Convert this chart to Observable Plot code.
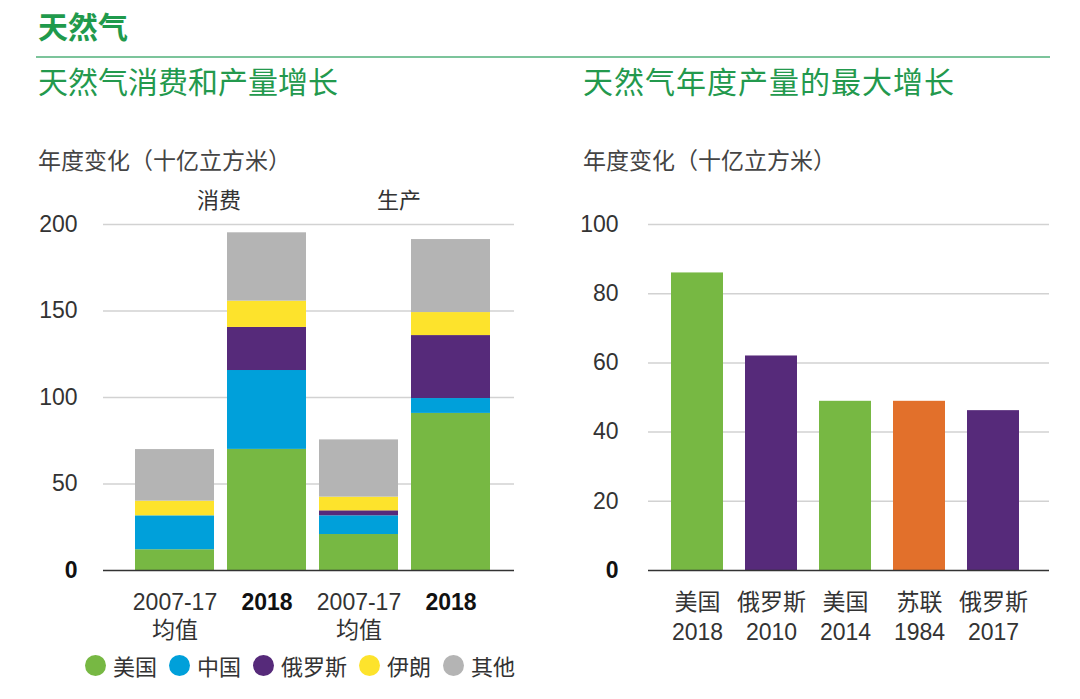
<!DOCTYPE html>
<html>
<head>
<meta charset="utf-8">
<script src="https://cdn.jsdelivr.net/npm/d3@7"></script>
<script src="https://cdn.jsdelivr.net/npm/@observablehq/plot@0.6"></script>
<style>
  html, body { margin: 0; padding: 0; background: #fff; }
  #page { position: relative; width: 1080px; height: 699px; overflow: hidden;
          font-family: "Liberation Sans", "Noto Sans CJK SC", sans-serif; color: #333; }
  .abs { position: absolute; white-space: nowrap; line-height: 1; }
  .title { left: 38px; top: 13px; font-size: 30px; font-weight: bold; color: #1f9a4c; }
  .rule { left: 36px; top: 56px; width: 1014px; height: 2px; background: #7cc49b; }
  .sub { top: 68px; font-size: 30px; color: #23994d; }
  .unit { top: 150px; font-size: 23px; color: #444; }
  .grp { top: 190px; font-size: 22px; color: #333; transform: translateX(-50%); }
  .plot { position: absolute; top: 180px; }
  #legend { position: absolute; left: 85px; top: 649px; display: flex; align-items: center;
            font-size: 22px; color: #333; }
  #legend .item { display: flex; align-items: center; margin-right: 12px; }
  #legend .dot { width: 21px; height: 21px; border-radius: 50%; margin-right: 7px; }
</style>
</head>
<body>
<div id="page">
  <div class="abs title">天然气</div>
  <div class="abs rule"></div>
  <div class="abs sub" style="left:38px">天然气消费和产量增长</div>
  <div class="abs sub" style="left:583px;letter-spacing:1px">天然气年度产量的最大增长</div>
  <div class="abs unit" style="left:38px">年度变化（十亿立方米）</div>
  <div class="abs unit" style="left:583px">年度变化（十亿立方米）</div>
  <div class="abs grp" style="left:219px">消费</div>
  <div class="abs grp" style="left:399px">生产</div>
  <div id="left" class="plot" style="left:0px"></div>
  <div id="right" class="plot" style="left:540px"></div>
  <div id="legend"></div>
</div>
<script>
// ---------- Left chart data (annual change, bcm) ----------
const leftCategories = ["消费均值", "消费2018", "生产均值", "生产2018"];
const leftTickLabels = ["2007-17\n均值", "2018", "2007-17\n均值", "2018"];
const seriesNames = ["美国", "中国", "俄罗斯", "伊朗", "其他"];
const seriesColors = ["#77b843", "#00a0da", "#562a7a", "#fde32c", "#b4b4b4"];
const usa    = [12.0, 70.0, 20.8, 90.8];
const china  = [19.6, 45.6, 10.8,  8.6];
const russia = [ 0.0, 24.9,  2.9, 36.4];
const iran   = [ 8.5, 15.2,  7.9, 13.3];
const others = [29.8, 39.5, 33.1, 42.2];
const leftTicks = [0, 50, 100, 150, 200];

// ---------- Right chart data ----------
const rightLabels = ["美国\n2018", "俄罗斯\n2010", "美国\n2014", "苏联\n1984", "俄罗斯\n2017"];
const rightCountries = ["美国", "俄罗斯", "美国", "苏联", "俄罗斯"];
const rightValues = [86.0, 62.0, 48.9, 48.9, 46.2];
const rightColorDomain = ["美国", "俄罗斯", "苏联"];
const rightColorRange = ["#77b843", "#562a7a", "#e2702b"];
const rightTicks = [0, 20, 40, 60, 80, 100];

const font = `"Liberation Sans", "Noto Sans CJK SC", sans-serif`;

// build long table for stacking
const seriesValues = [usa, china, russia, iran, others];
const leftData = [];
seriesNames.forEach((s, si) => {
  leftCategories.forEach((c, ci) => {
    leftData.push({cat: c, series: s, value: seriesValues[si][ci]});
  });
});
const labelOf = Object.fromEntries(leftCategories.map((c, i) => [c, leftTickLabels[i]]));

const leftPlot = Plot.plot({
  width: 540, height: 480,
  marginLeft: 103, marginRight: 26, marginTop: 44, marginBottom: 90,
  style: {fontFamily: font, fontSize: "23px", color: "#333", background: "transparent"},
  x: {domain: leftCategories, paddingInner: 0.14, paddingOuter: 0.3, align: 0.57, label: null},
  y: {domain: [0, 200], label: null},
  color: {domain: seriesNames, range: seriesColors},
  marks: [
    Plot.gridY(leftTicks.slice(1), {stroke: "#d2d2d2", strokeOpacity: 1, strokeWidth: 1.5}),
    Plot.barY(leftData, {x: "cat", y: "value", fill: "series"}),
    Plot.ruleY([0], {stroke: "#333", strokeWidth: 1.5}),
    Plot.axisY(leftTicks.slice(1), {tickSize: 0, tickPadding: 26, fill: "#333", label: null}),
    Plot.axisY([0], {tickSize: 0, tickPadding: 26, fill: "#111", fontWeight: "bold", label: null}),
    Plot.axisX([leftCategories[0], leftCategories[2]], {tickSize: 0, tickPadding: 20, lineHeight: 1.2,
      tickFormat: d => labelOf[d], fill: "#333", label: null}),
    Plot.axisX([leftCategories[1], leftCategories[3]], {tickSize: 0, tickPadding: 20, lineHeight: 1.2,
      tickFormat: d => labelOf[d], fill: "#111", fontWeight: "bold", label: null})
  ]
});
document.getElementById("left").appendChild(leftPlot);

const rightData = rightLabels.map((l, i) => ({label: l, country: rightCountries[i], value: rightValues[i]}));
const rightPlot = Plot.plot({
  width: 540, height: 480,
  marginLeft: 108, marginRight: 31, marginTop: 44, marginBottom: 90,
  style: {fontFamily: font, fontSize: "23px", color: "#333", background: "transparent"},
  x: {domain: rightLabels, paddingInner: 0.293, paddingOuter: 0.33, align: 0.44, label: null},
  y: {domain: [0, 100], label: null},
  color: {domain: rightColorDomain, range: rightColorRange},
  marks: [
    Plot.gridY(rightTicks.slice(1), {stroke: "#d2d2d2", strokeOpacity: 1, strokeWidth: 1.5}),
    Plot.barY(rightData, {x: "label", y: "value", fill: "country"}),
    Plot.ruleY([0], {stroke: "#333", strokeWidth: 1.5}),
    Plot.axisY(rightTicks.slice(1), {tickSize: 0, tickPadding: 30, fill: "#333", label: null}),
    Plot.axisY([0], {tickSize: 0, tickPadding: 30, fill: "#111", fontWeight: "bold", label: null}),
    Plot.axisX({tickSize: 0, tickPadding: 18, lineHeight: 1.3, fill: "#333", label: null})
  ]
});
document.getElementById("right").appendChild(rightPlot);

// legend
const legend = document.getElementById("legend");
seriesNames.forEach((s, i) => {
  const item = document.createElement("div");
  item.className = "item";
  const dot = document.createElement("div");
  dot.className = "dot";
  dot.style.background = seriesColors[i];
  const txt = document.createElement("span");
  txt.textContent = s;
  item.appendChild(dot);
  item.appendChild(txt);
  legend.appendChild(item);
});
</script>
</body>
</html>
